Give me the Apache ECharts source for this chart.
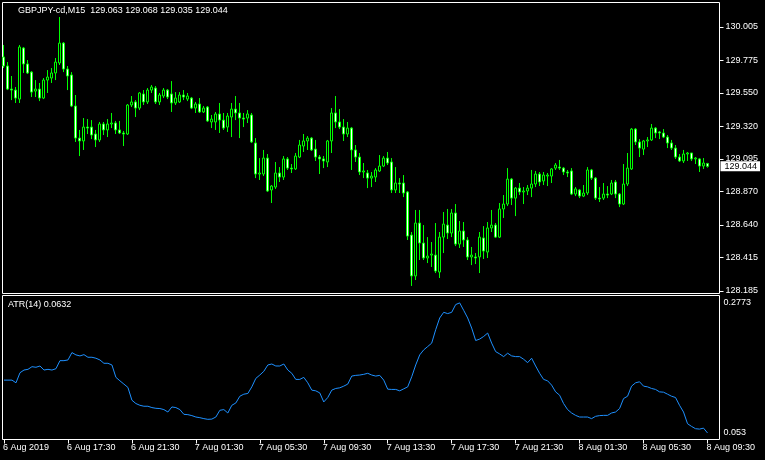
<!DOCTYPE html>
<html>
<head>
<meta charset="utf-8">
<script src="https://cdn.jsdelivr.net/npm/echarts@6/dist/echarts.min.js"></script>
<style>
html,body{margin:0;padding:0;background:#000;}
#chart{width:765px;height:460px;}
</style>
</head>
<body>
<div id="chart"></div>
<script>
// ---- data ----
const symbolName = 'GBPJPY-cd,M15';
const firstBarTime = '2019-08-06T13:30:00Z';
const barMinutes = 15;
const emptyBarsRight = 3;

const opens = [
129.798,129.736,129.577,129.570,129.508,129.860,129.750,129.694,129.563,129.577,
129.515,129.639,129.653,129.688,129.757,129.894,129.715,129.674,129.460,129.239,
129.219,129.315,129.315,129.267,129.226,129.336,129.295,129.336,129.343,129.295,
129.274,129.267,129.467,129.488,129.446,129.543,129.488,129.570,129.584,129.488,
129.529,129.570,129.543,129.481,129.488,129.536,129.508,129.515,129.446,129.474,
129.419,129.453,129.350,129.350,129.405,129.363,129.315,129.384,129.439,129.412,
129.377,129.377,129.398,129.205,128.991,128.991,129.101,128.881,128.901,128.998,
128.970,129.095,129.032,129.026,129.108,129.184,129.219,129.239,129.163,129.108,
129.095,129.074,129.219,129.412,129.350,129.315,129.267,129.308,129.157,129.108,
129.005,128.998,128.963,128.970,129.012,129.046,129.101,129.074,128.881,128.929,
128.929,128.867,128.570,128.288,128.653,128.515,128.412,128.432,128.432,128.315,
128.556,128.639,128.584,128.722,128.508,128.598,128.536,128.419,128.419,128.419,
128.550,128.453,128.619,128.639,128.556,128.750,128.784,128.956,128.825,128.894,
128.867,128.874,128.894,128.922,128.991,128.943,128.977,128.977,129.032,129.039,
129.032,129.005,129.012,128.853,128.881,128.839,128.860,129.019,128.963,128.825,
128.825,128.853,128.853,128.936,128.853,128.784,128.922,129.026,129.301,129.212,
129.163,129.219,129.226,129.308,129.281,129.274,129.246,129.205,129.170,129.108,
129.081,129.129,129.136,129.095,129.095,129.046,129.063
];
const closes = [
129.736,129.577,129.570,129.515,129.867,129.750,129.688,129.556,129.577,129.515,
129.639,129.660,129.688,129.763,129.894,129.715,129.667,129.460,129.239,129.219,
129.315,129.308,129.260,129.226,129.336,129.295,129.336,129.343,129.295,129.274,
129.267,129.467,129.488,129.446,129.550,129.488,129.570,129.591,129.488,129.536,
129.570,129.522,129.481,129.515,129.536,129.522,129.529,129.446,129.474,129.419,
129.446,129.357,129.370,129.405,129.363,129.308,129.391,129.439,129.412,129.377,
129.370,129.405,129.212,128.991,128.998,129.101,128.874,128.908,128.998,128.970,
129.095,129.032,129.026,129.115,129.191,129.219,129.239,129.157,129.108,129.095,
129.081,129.219,129.412,129.350,129.315,129.267,129.308,129.157,129.108,129.005,
129.012,128.963,128.977,129.019,129.046,129.101,129.067,128.881,128.929,128.922,
128.860,128.563,128.288,128.653,128.515,128.412,128.425,128.439,128.322,128.556,
128.646,128.584,128.722,128.508,128.598,128.536,128.419,128.432,128.412,128.556,
128.460,128.619,128.639,128.556,128.750,128.784,128.956,128.825,128.894,128.867,
128.874,128.894,128.922,128.991,128.936,128.984,128.984,129.026,129.053,129.032,
129.005,128.998,128.853,128.888,128.839,128.860,129.019,128.963,128.825,128.819,
128.853,128.846,128.929,128.853,128.784,128.922,129.032,129.301,129.212,129.170,
129.219,129.226,129.308,129.274,129.274,129.246,129.205,129.170,129.108,129.081,
129.129,129.136,129.095,129.101,129.046,129.067,129.044
];
const lows = [
129.722,129.570,129.501,129.481,129.481,129.688,129.681,129.522,129.522,129.494,
129.508,129.550,129.619,129.639,129.743,129.694,129.570,129.453,129.212,129.115,
129.157,129.267,129.232,129.177,129.212,129.260,129.246,129.308,129.267,129.267,
129.184,129.260,129.453,129.384,129.432,129.467,129.474,129.550,129.474,129.467,
129.515,129.508,129.419,129.467,129.481,129.501,129.494,129.439,129.412,129.412,
129.412,129.350,129.308,129.295,129.274,129.295,129.281,129.246,129.363,129.239,
129.315,129.343,129.205,128.963,128.950,128.977,128.867,128.791,128.888,128.936,
128.950,129.019,128.998,129.019,129.101,129.143,129.157,129.150,129.081,128.991,
129.032,129.039,129.136,129.308,129.301,129.219,129.246,129.019,129.074,128.984,
128.963,128.894,128.901,128.936,129.005,129.039,129.053,128.860,128.860,128.860,
128.832,128.536,128.219,128.260,128.398,128.398,128.377,128.350,128.308,128.274,
128.446,128.543,128.556,128.494,128.481,128.488,128.398,128.363,128.370,128.308,
128.405,128.412,128.591,128.550,128.550,128.688,128.770,128.777,128.701,128.846,
128.784,128.846,128.832,128.901,128.908,128.915,128.908,128.929,129.019,129.019,
128.984,128.970,128.846,128.839,128.825,128.832,128.846,128.950,128.812,128.798,
128.812,128.825,128.846,128.825,128.763,128.777,128.908,129.019,129.191,129.108,
129.122,129.177,129.219,129.239,129.232,129.239,129.170,129.157,129.095,129.074,
129.067,129.081,129.081,129.060,129.005,129.026,129.035
];
const highs = [
129.881,129.763,129.667,129.591,129.881,129.867,129.777,129.701,129.639,129.619,
129.653,129.708,129.722,129.791,130.074,129.901,129.736,129.694,129.536,129.295,
129.377,129.370,129.363,129.295,129.350,129.350,129.370,129.412,129.357,129.357,
129.288,129.474,129.529,129.501,129.556,129.570,129.584,129.605,129.598,129.550,
129.584,129.577,129.632,129.556,129.556,129.570,129.550,129.522,129.488,129.515,
129.460,129.460,129.398,129.419,129.481,129.412,129.412,129.481,129.529,129.481,
129.412,129.432,129.412,129.239,129.101,129.157,129.129,128.915,129.074,129.039,
129.115,129.108,129.060,129.136,129.226,129.267,129.253,129.246,129.226,129.122,
129.115,129.226,129.446,129.529,129.439,129.370,129.350,129.315,129.191,129.136,
129.067,129.019,129.005,129.032,129.122,129.115,129.143,129.101,129.039,128.963,
128.984,128.874,128.591,128.743,128.743,128.639,128.556,128.522,128.653,128.591,
128.729,128.750,128.750,128.784,128.667,128.660,128.556,128.488,128.446,128.591,
128.632,128.660,128.743,128.653,128.791,128.846,129.032,128.963,128.901,128.929,
128.901,128.915,129.019,129.012,129.005,129.005,128.998,129.032,129.067,129.088,
129.039,129.019,129.032,128.901,128.888,128.915,129.039,129.026,128.970,128.901,
128.929,128.908,128.950,128.950,128.860,129.060,129.136,129.308,129.308,129.232,
129.226,129.246,129.336,129.315,129.288,129.301,129.260,129.226,129.191,129.129,
129.157,129.143,129.136,129.108,129.101,129.101,129.068
];
const atr14 = [
0.1455,0.1455,0.1455,0.1413,0.1570,0.1612,0.1623,0.1664,0.1655,0.1675,
0.1612,0.1623,0.1612,0.1633,0.1758,0.1758,0.1769,0.1884,0.1848,0.1832,
0.1852,0.1811,0.1811,0.1796,0.1769,0.1717,0.1717,0.1691,0.1498,0.1444,
0.1393,0.1341,0.1142,0.1090,0.1063,0.1048,0.1048,0.1027,0.1016,0.1012,
0.0996,0.0958,0.1037,0.1027,0.0996,0.0922,0.0917,0.0902,0.0880,0.0870,
0.0855,0.0844,0.0848,0.0880,0.0985,0.0996,0.0943,0.1063,0.1099,0.1204,
0.1236,0.1247,0.1350,0.1482,0.1534,0.1592,0.1691,0.1706,0.1675,0.1675,
0.1706,0.1612,0.1561,0.1466,0.1466,0.1498,0.1413,0.1299,0.1288,0.1256,
0.1115,0.1184,0.1299,0.1325,0.1335,0.1361,0.1393,0.1518,0.1529,0.1534,
0.1545,0.1561,0.1534,0.1518,0.1529,0.1455,0.1314,0.1310,0.1310,0.1288,
0.1319,0.1350,0.1507,0.1691,0.1848,0.1926,0.1978,0.2031,0.2240,0.2423,
0.2511,0.2491,0.2511,0.2632,0.2658,0.2542,0.2423,0.2266,0.2072,0.2094,
0.2135,0.2188,0.2031,0.1899,0.1863,0.1821,0.1874,0.1832,0.1821,0.1821,
0.1780,0.1727,0.1796,0.1675,0.1561,0.1466,0.1444,0.1377,0.1272,0.1220,
0.1090,0.0996,0.0943,0.0906,0.0880,0.0880,0.0880,0.0855,0.0891,0.0902,
0.0906,0.0906,0.0943,0.0958,0.1012,0.1168,0.1204,0.1361,0.1413,0.1429,
0.1361,0.1350,0.1325,0.1310,0.1272,0.1267,0.1236,0.1204,0.1184,0.1063,
0.0958,0.0776,0.0734,0.0698,0.0692,0.0707,0.0632
];

// price scale
const priceMin = 128.167;
const priceMax = 130.174;
const priceTicks = [128.185,128.415,128.640,128.870,129.095,129.320,129.550,129.775,130.005];
// ATR scale
const atrMin = 0.053;
const atrMax = 0.2773;
const atrScaleLabels = ['0.2773','0.053'];
// time axis labels (every 16 bars = 4 hours)
const timeLabelEvery = 16;
const timeLabels = ['6 Aug 2019','6 Aug 17:30','6 Aug 21:30','7 Aug 01:30','7 Aug 05:30','7 Aug 09:30',
  '7 Aug 13:30','7 Aug 17:30','7 Aug 21:30','8 Aug 01:30','8 Aug 05:30','8 Aug 09:30'];

// ---- build ----
const n = opens.length;
const startMs = Date.parse(firstBarTime);
const categories = [];
for (let i = 0; i < n + emptyBarsRight; i++) {
  categories.push(new Date(startMs + i * barMinutes * 60000).toISOString().slice(0, 16));
}
const candles = opens.map((o, i) => [o, closes[i], lows[i], highs[i]]);
const last = n - 1;
const headerText = symbolName + '  ' + [opens[last], highs[last], lows[last], closes[last]].map(v => v.toFixed(3)).join(' ');
const atrText = 'ATR(14) ' + atr14[last].toFixed(4);

const FONT = 'Liberation Sans';
const FS = 9;
const WHITE = '#ffffff';
const LIME = '#00ff00';

// layout: frames (border only) and plot areas (4 px per bar)
const frameLeft = 2.5, frameWidth = 717;
const plotLeft = 3.5, plotWidth = 716;
const mainTop = 2.5, mainHeight = 291;
const atrTop = 295.5, atrHeight = 144;

const hiddenAxis = {show: false};

const chart = echarts.init(document.getElementById('chart'), null, {renderer: 'canvas'});
chart.setOption({
  animation: false,
  backgroundColor: '#000000',
  textStyle: {fontFamily: FONT, fontSize: FS},
  title: [
    {text: headerText, left: 18, top: 6, padding: 0,
     textStyle: {color: WHITE, fontSize: FS, fontWeight: 'normal', fontFamily: FONT}},
    {text: atrText, left: 8, top: 300, padding: 0,
     textStyle: {color: WHITE, fontSize: FS, fontWeight: 'normal', fontFamily: FONT}}
  ],
  grid: [
    {left: plotLeft, top: mainTop, width: plotWidth, height: mainHeight, show: false},
    {left: plotLeft, top: atrTop, width: plotWidth, height: atrHeight, show: false},
    {left: frameLeft, top: mainTop, width: frameWidth, height: mainHeight, show: true, borderColor: WHITE, borderWidth: 1, backgroundColor: 'transparent'},
    {left: frameLeft, top: atrTop, width: frameWidth, height: atrHeight, show: true, borderColor: WHITE, borderWidth: 1, backgroundColor: 'transparent'}
  ],
  xAxis: [
    {gridIndex: 0, type: 'category', data: categories, boundaryGap: false,
     axisLine: {show: false}, axisTick: {show: false}, axisLabel: {show: false}, splitLine: {show: false}},
    {gridIndex: 1, type: 'category', data: categories, boundaryGap: false,
     axisLine: {show: false},
     axisTick: {show: true, interval: timeLabelEvery - 1, length: 4, lineStyle: {color: WHITE}},
     axisLabel: {show: true, interval: timeLabelEvery - 1, color: WHITE, fontSize: FS, fontFamily: FONT,
       align: 'left', margin: 4, padding: [0, 0, 0, -1],
       formatter: (v, idx) => timeLabels[idx / timeLabelEvery] || ''},
     splitLine: {show: false}},
    Object.assign({gridIndex: 2, type: 'value'}, hiddenAxis),
    Object.assign({gridIndex: 3, type: 'value'}, hiddenAxis)
  ],
  yAxis: [
    {gridIndex: 0, type: 'value', position: 'right', min: priceMin, max: priceMax,
     axisLine: {show: false}, splitLine: {show: false},
     axisTick: {show: true, customValues: priceTicks, length: 4, lineStyle: {color: WHITE}},
     axisLabel: {show: true, customValues: priceTicks, color: WHITE, fontSize: FS, fontFamily: FONT, margin: 6,
       formatter: v => v.toFixed(3)}},
    {gridIndex: 0, type: 'value', position: 'right', min: priceMin, max: priceMax,
     axisLine: {show: false}, splitLine: {show: false}, axisTick: {show: false},
     axisLabel: {show: true, customValues: [closes[last]], color: '#000000', backgroundColor: WHITE,
       fontSize: FS, fontFamily: FONT, margin: 1, padding: [1, 3, 0, 4], lineHeight: 9,
       formatter: v => v.toFixed(3)}},
    {gridIndex: 1, type: 'value', position: 'right', min: atrMin, max: atrMax,
     axisLine: {show: false}, splitLine: {show: false}, axisTick: {show: false},
     axisLabel: {show: true, customValues: [atrMax, atrMin], color: WHITE, fontSize: FS, fontFamily: FONT, margin: 4,
       formatter: v => Math.abs(v - atrMax) < 1e-9 ? '{t|' + atrScaleLabels[0] + '}' : '{b|' + atrScaleLabels[1] + '}',
       rich: {
         t: {color: WHITE, fontSize: FS, fontFamily: FONT, padding: [14, 0, 0, 0]},
         b: {color: WHITE, fontSize: FS, fontFamily: FONT, padding: [0, 0, 14, 0]}
       }}},
    Object.assign({gridIndex: 2, type: 'value'}, hiddenAxis),
    Object.assign({gridIndex: 3, type: 'value'}, hiddenAxis)
  ],
  series: [
    {type: 'candlestick', xAxisIndex: 0, yAxisIndex: 0, data: candles, barWidth: 2, silent: true,
     itemStyle: {color: '#000000', color0: WHITE, borderColor: LIME, borderColor0: LIME, borderColorDoji: LIME, borderWidth: 1}},
    {type: 'line', xAxisIndex: 1, yAxisIndex: 2, data: atr14, showSymbol: false, silent: true,
     lineStyle: {color: '#1e90ff', width: 1}}
  ]
});
</script>
</body>
</html>
